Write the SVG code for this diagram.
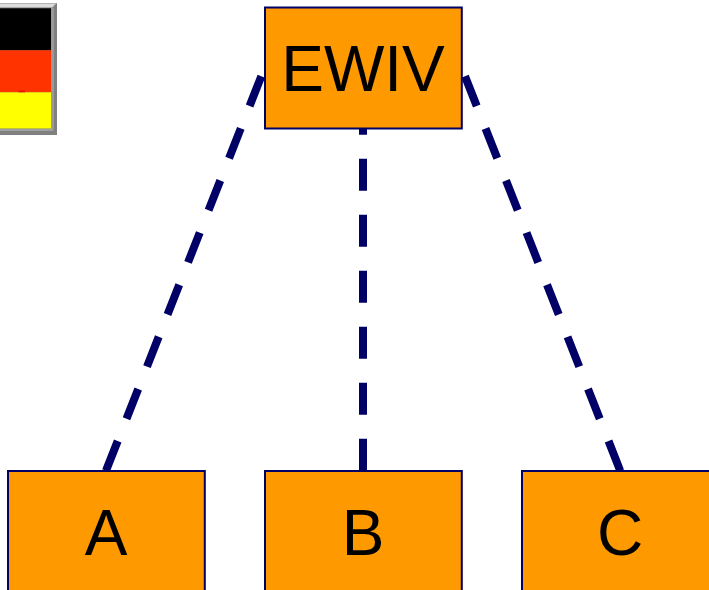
<svg xmlns="http://www.w3.org/2000/svg" width="709" height="590" viewBox="0 0 709 590">
<style>
.box{fill:#ff9900;stroke:#000066;stroke-width:2}
.lbl{font-family:"Liberation Sans",Arial,sans-serif;font-size:64px;fill:#000;text-anchor:middle}
.dash{stroke:#000066;stroke-width:8;stroke-dasharray:32 24;fill:none}
</style>
<rect width="709" height="590" fill="#fff"/>
<g id="flag">
<rect x="-10" y="3" width="67" height="132" fill="#808080"/>
<polygon points="-10,3 57,3 55,5 -10,5" fill="#b4b4b4"/>
<polygon points="-10,4 55,4 53,7 -10,7" fill="#dcdcdc"/>
<polygon points="-10,7 53,7 52,8.300 -10,8.300" fill="#a8a8a8"/>
<rect x="51" y="8" width="3" height="122" fill="#9a9a9a"/>
<rect x="-10" y="129" width="63" height="2" fill="#a0a0a0"/>
<rect x="-10" y="8.300" width="61" height="42" fill="#000"/>
<rect x="-10" y="50.300" width="61" height="42" fill="#ff3300"/>
<rect x="-10" y="92.300" width="61" height="36.200" fill="#ffff00"/>
<rect x="18.500" y="90.500" width="6.500" height="1.800" fill="#ee1100"/>
</g>
<g id="connectors">
<line class="dash" x1="261.300" y1="76.300" x2="105.900" y2="471"/>
<line class="dash" x1="363" y1="128.500" x2="363" y2="471" stroke-dashoffset="25.800"/>
<line class="dash" x1="465" y1="76.300" x2="620.300" y2="471"/>
</g>
<g id="node-ewiv"><rect class="box" x="265" y="7.500" width="196.800" height="121"/><text class="lbl" x="363" y="91">EWIV</text></g>
<g id="node-a"><rect class="box" x="8" y="471" width="196.800" height="125"/><text class="lbl" x="106" y="555">A</text></g>
<g id="node-b"><rect class="box" x="265" y="471" width="196.800" height="125"/><text class="lbl" x="363" y="555">B</text></g>
<g id="node-c"><rect class="box" x="522" y="471" width="196.800" height="125"/><text class="lbl" x="620" y="555">C</text></g>
</svg>
